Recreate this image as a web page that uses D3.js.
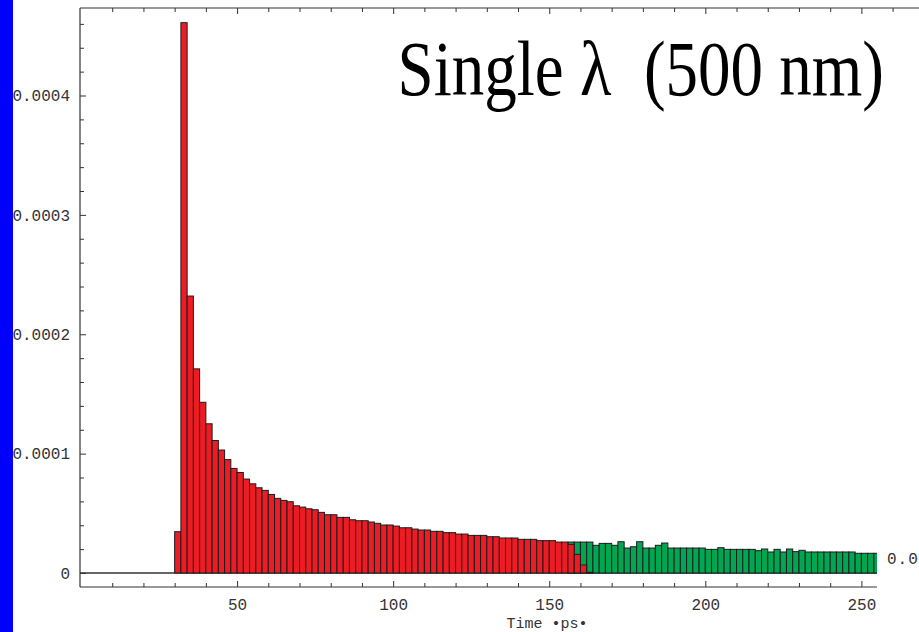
<!DOCTYPE html>
<html lang="en">
<head>
    <meta charset="UTF-8">
    <title>Single lambda (500 nm)</title>
    <script src="https://d3js.org/d3.v7.min.js"></script>
    <style>
        body { margin: 0; background: #fff; }
        .tick text { font-family: "Liberation Mono", monospace; font-size: 16px; fill: #333; }
        .tick line { stroke: #333; }
    </style>
</head>
<body>
    <div id="my_dataviz"></div>

    <script>
        var width = 919, height = 632;

        // bin width of the histogram, in ps
        var binWidth = 2;

        // red histogram: bins starting at 30 ps
        var redStart = d3.range(30, 164, 2);
        var redValues = [
            3.46e-5, 4.61e-4, 2.32e-4, 1.71e-4, 1.43e-4, 1.25e-4, 1.11e-4, 1.03e-4, 9.5e-5, 8.76e-5,
            8.42e-5, 7.87e-5, 7.47e-5, 7.14e-5, 6.92e-5, 6.58e-5, 6.25e-5, 6.08e-5, 5.97e-5, 5.63e-5,
            5.52e-5, 5.38e-5, 5.30e-5, 5.08e-5, 4.88e-5, 4.88e-5, 4.66e-5, 4.66e-5, 4.46e-5, 4.38e-5,
            4.38e-5, 4.27e-5, 4.16e-5, 4.02e-5, 4.02e-5, 3.93e-5, 3.79e-5, 3.79e-5, 3.68e-5, 3.60e-5,
            3.60e-5, 3.49e-5, 3.49e-5, 3.38e-5, 3.38e-5, 3.26e-5, 3.26e-5, 3.15e-5, 3.15e-5, 3.15e-5,
            3.04e-5, 3.04e-5, 2.93e-5, 2.93e-5, 2.93e-5, 2.82e-5, 2.82e-5, 2.82e-5, 2.71e-5, 2.71e-5,
            2.71e-5, 2.59e-5, 2.59e-5, 2.40e-5, 1.56e-5, 6.7e-6, 6e-7
        ];

        // green histogram: bins starting at 156 ps (drawn behind the red one)
        var greenStart = d3.range(156, 256, 2);
        var greenValues = [
            2.59e-5, 2.59e-5, 2.59e-5, 2.59e-5, 2.32e-5, 2.48e-5, 2.48e-5, 2.32e-5, 2.62e-5, 2.09e-5,
            2.20e-5, 2.62e-5, 2.09e-5, 2.09e-5, 2.32e-5, 2.51e-5, 2.09e-5, 2.09e-5, 2.09e-5, 2.09e-5,
            2.09e-5, 2.09e-5, 1.98e-5, 1.98e-5, 2.12e-5, 1.98e-5, 1.98e-5, 1.98e-5, 1.98e-5, 1.98e-5,
            1.87e-5, 2.01e-5, 1.76e-5, 1.98e-5, 1.76e-5, 2.01e-5, 1.79e-5, 1.90e-5, 1.76e-5, 1.76e-5,
            1.76e-5, 1.76e-5, 1.76e-5, 1.76e-5, 1.76e-5, 1.76e-5, 1.65e-5, 1.65e-5, 1.65e-5, 1.65e-5
        ];

        // tick labels
        var xMajorTicks = [50, 100, 150, 200, 250];
        var xMinorTicks = d3.range(10, 261, 10).filter(function(d) { return d % 50 != 0; });
        var yMajorTicks = [0, 0.0001, 0.0002, 0.0003, 0.0004];
        var yMinorTicks = d3.range(2, 47, 2).map(function(d) { return d * 1e-5; }).filter(function(d, i) { return (i + 1) % 5 != 0; });

        var frameLeft = 80, frameTop = 8, frameBottom = 587, plotRight = 877;

        const svg = d3.select("#my_dataviz")
            .append("svg")
            .attr("width", width)
            .attr("height", height);

        const x = d3.scaleLinear().domain([0, 255]).range([81, plotRight]);
        const y = d3.scaleLinear().domain([0, 0.0004]).range([573, 95.5]);

        // clip the bars to the plot range
        svg.append("clipPath").attr("id", "plotclip")
            .append("rect")
            .attr("x", frameLeft).attr("y", frameTop)
            .attr("width", plotRight - frameLeft).attr("height", frameBottom - frameTop);

        // zero line
        svg.append("line")
            .attr("x1", frameLeft).attr("x2", plotRight)
            .attr("y1", y(0)).attr("y2", y(0))
            .attr("stroke", "#666").attr("stroke-width", 2);

        var bars = svg.append("g").attr("clip-path", "url(#plotclip)");

        function drawBars(starts, values, color) {
            var data = starts.map(function(s, i) { return { start: s, value: values[i] }; });
            bars.append("g").selectAll("rect")
                .data(data)
                .join("rect")
                .attr("x", function(d) { return x(d.start); })
                .attr("width", function(d) { return x(d.start + binWidth) - x(d.start); })
                .attr("y", function(d) { return y(d.value); })
                .attr("height", function(d) { return y(0) - y(d.value); })
                .attr("fill", color)
                .attr("stroke", "#1c1c1c")
                .attr("stroke-width", 1);
        }
        drawBars(greenStart, greenValues, "#00a651");
        drawBars(redStart, redValues, "#ed1c24");

        // bottom axis
        svg.append("g")
            .attr("transform", `translate(0, ${frameBottom})`)
            .call(d3.axisBottom(x).tickValues(xMajorTicks).tickSize(-6).tickSizeOuter(0).tickPadding(12))
            .call(function(g) { g.select(".domain").remove(); });
        svg.append("g")
            .attr("transform", `translate(0, ${frameBottom})`)
            .call(d3.axisBottom(x).tickValues(xMinorTicks.filter(function(d) { return d < 255; })).tickSize(-4).tickFormat(""))
            .call(function(g) { g.select(".domain").remove(); });

        // top ticks (the frame runs past the plotted range)
        svg.append("g")
            .attr("transform", `translate(0, ${frameTop})`)
            .call(d3.axisTop(x).tickValues(xMajorTicks).tickSize(-6).tickFormat(""))
            .call(function(g) { g.select(".domain").remove(); });
        svg.append("g")
            .attr("transform", `translate(0, ${frameTop})`)
            .call(d3.axisTop(x).tickValues(xMinorTicks).tickSize(-4).tickFormat(""))
            .call(function(g) { g.select(".domain").remove(); });

        // left axis
        svg.append("g")
            .attr("transform", `translate(${frameLeft}, 0)`)
            .call(d3.axisLeft(y).tickValues(yMajorTicks).tickSize(-6).tickPadding(10)
                .tickFormat(function(d) { return d == 0 ? "0" : d.toFixed(4); }))
            .call(function(g) { g.select(".domain").remove(); });
        svg.append("g")
            .attr("transform", `translate(${frameLeft}, 0)`)
            .call(d3.axisLeft(y).tickValues(yMinorTicks).tickSize(-4).tickFormat(""))
            .call(function(g) { g.select(".domain").remove(); });

        // frame lines
        svg.append("line").attr("x1", frameLeft).attr("x2", frameLeft).attr("y1", frameTop).attr("y2", frameBottom)
            .attr("stroke", "#333").attr("stroke-width", 1.2);
        svg.append("line").attr("x1", frameLeft).attr("x2", width).attr("y1", frameTop).attr("y2", frameTop)
            .attr("stroke", "#333").attr("stroke-width", 1.2);
        svg.append("line").attr("x1", frameLeft).attr("x2", plotRight).attr("y1", frameBottom).attr("y2", frameBottom)
            .attr("stroke", "#333").attr("stroke-width", 1.2);

        // axis label
        svg.append("text")
            .attr("x", 547).attr("y", 628)
            .attr("text-anchor", "middle")
            .style("font-family", "Liberation Mono, monospace")
            .style("font-size", "15px")
            .style("fill", "#333")
            .text("Time \u2022ps\u2022");

        // clipped label at the right edge
        svg.append("text")
            .attr("x", 887).attr("y", 564)
            .style("font-family", "Liberation Mono, monospace")
            .style("font-size", "16px")
            .style("letter-spacing", "1px")
            .style("fill", "#333")
            .text("0.0");

        // title
        svg.append("text")
            .attr("transform", "translate(884, 95) scale(1, 1.22)")
            .attr("text-anchor", "end")
            .style("font-family", "Liberation Serif, Times New Roman, serif")
            .style("font-size", "65px")
            .style("fill", "#000")
            .style("white-space", "pre")
            .text("Single \u03bb  (500 nm)");

        // blue strip on the left edge
        svg.append("rect")
            .attr("x", 0).attr("y", 0).attr("width", 13).attr("height", height)
            .attr("fill", "#0000ff");
    </script>
</body>
</html>
